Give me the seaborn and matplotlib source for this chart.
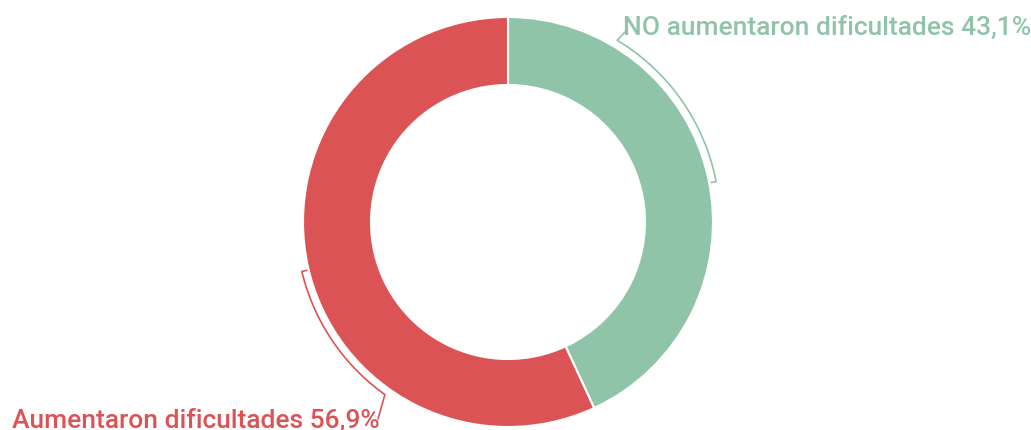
import numpy as np
import matplotlib.pyplot as plt
import seaborn as sns

# data
categories = ['NO aumentaron dificultades', 'Aumentaron dificultades']
values = [43.1, 56.9]
value_labels = ['43,1%', '56,9%']
colors = ['#8fc4a8', '#dc5355']

sns.set_theme(style='white')
plt.rcParams['font.family'] = ['Roboto', 'DejaVu Sans']

W, H = 1031, 431
fig = plt.figure(figsize=(W / 100, H / 100), dpi=100)
ax = fig.add_axes([0, 0, 1, 1])

cx, cy, R = 508, 208, 205
ax.pie(values, colors=colors, startangle=90, counterclock=False,
       center=(cx, cy), radius=R, frame=True,
       wedgeprops=dict(width=68, edgecolor='white', linewidth=1.5))
ax.set_xlim(0, W)
ax.set_ylim(0, H)
ax.set_aspect('equal')
ax.axis('off')


def pt(theta, r):
    # theta in degrees, clockwise from 12 o'clock
    t = np.deg2rad(theta)
    return cx + r * np.sin(t), cy + r * np.cos(t)


def bracket(t0, t1, color, leader_end):
    th = np.linspace(t0, t1, 60)
    xs, ys = pt(th, 212)
    ax.plot(xs, ys, color=color, lw=1.2, solid_capstyle='butt')
    # inward tick at far end
    x0, y0 = pt(t1, 212)
    x1, y1 = pt(t1, 207)
    ax.plot([x0, x1], [y0, y1], color=color, lw=1.2)
    # leader toward the label
    xs0, ys0 = pt(t0, 212)
    ax.plot([xs0, leader_end[0]], [ys0, leader_end[1]], color=color, lw=1.2)


bracket(31, 79, colors[0], (625, 398))
bracket(215.5, 256.5, colors[1], (378, 11))

ax.text(623, 396, f'{categories[0]} {value_labels[0]}', color=colors[0],
        fontsize=19, fontweight='medium', ha='left', va='baseline')
ax.text(12, 3, f'{categories[1]} {value_labels[1]}', color=colors[1],
        fontsize=19, fontweight='medium', ha='left', va='baseline')

fig.savefig('out.png', dpi=100)
